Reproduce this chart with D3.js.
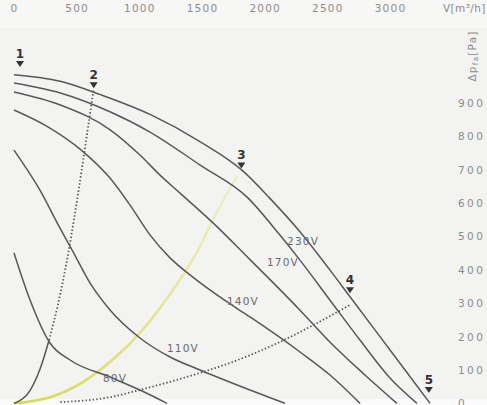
<!DOCTYPE html>
<html><head><meta charset="utf-8">
<script src="https://cdn.jsdelivr.net/npm/d3@7/dist/d3.min.js"></script>
<style>html,body{margin:0;padding:0;background:#fff;}svg{display:block;}</style>
</head><body><svg id="c" width="487" height="405"></svg>
<script>
// ---- data ----
const xTicks = [0, 500, 1000, 1500, 2000, 2500, 3000];
const yTicks = [0, 100, 200, 300, 400, 500, 600, 700, 800, 900];
const xUnit = "V[m³/h]";

// fan curves (V in m3/h, dp in Pa)
const curveA_V = [0, 370, 690, 1090, 1480, 1830, 2040, 2280, 2520, 2680, 2920, 3120, 3320];
const curveA_P = [985, 965, 925, 865, 785, 695, 615, 515, 400, 320, 200, 100, 0];
const curve230_V = [0, 370, 770, 1085, 1485, 1860, 2120, 2280, 2520, 2760, 3000, 3215];
const curve230_P = [960, 930, 873, 813, 714, 618, 505, 430, 310, 190, 76, 0];
const curve170_V = [0, 370, 770, 1005, 1165, 1325, 1590, 1885, 2045, 2280, 2520, 2800, 3055];
const curve170_P = [933, 894, 819, 744, 684, 630, 540, 430, 370, 280, 184, 85, 0];
const curve140_V = [0, 287, 527, 766, 926, 1085, 1245, 1404, 1700, 1883, 2282, 2521, 2761];
const curve140_P = [879, 825, 762, 675, 594, 505, 436, 385, 304, 259, 154, 85, 0];
const curve110_V = [0, 207, 367, 463, 606, 766, 1005, 1245, 1484, 1883, 2162];
const curve110_P = [759, 639, 525, 460, 361, 280, 196, 139, 100, 40, 0];
const curve80_V = [0, 128, 287, 447, 766, 1005, 1221];
const curve80_P = [451, 310, 181, 130, 79, 40, 0];

const fanLabels = ["230V", "170V", "140V", "110V", "80V"];
const fanLabelV = [2306, 2146, 1827, 1348, 806];
const fanLabelP = [486, 424, 307, 166, 76];

// system curves
const sys2_V = [0, 130, 210, 280, 350, 440, 520, 580, 636];
const sys2_P = [0, 40, 105, 190, 295, 465, 650, 800, 944];
const sys2_solidTo = 280;
const sys4_V = [0, 370, 770, 1000, 1480, 1720, 2070, 2420, 2680];
const sys4_P = [0, 4, 19, 40, 91, 121, 175, 241, 295];
const sys3_V = [0, 300, 550, 800, 1005, 1250, 1484, 1600, 1780];
const sys3_P = [0, 20, 64, 135, 211, 330, 470, 560, 680];

// operating point markers
const markerLabels = ["1", "2", "3", "4", "5"];
const markerV = [48, 636, 1814, 2681, 3310];
const markerP = [1008, 944, 704, 330, 31];

// ---- drawing ----
const svg = d3.select("#c");
const x = d3.scaleLinear().domain([0, 3000]).range([14, 390]);
const y = d3.scaleLinear().domain([0, 900]).range([403.4, 103]);
const FONT = "DejaVu Sans, sans-serif";

// background
svg.append("rect").attr("width", 487).attr("height", 405).attr("fill", "#f3f3f2");
svg.append("rect").attr("width", 487).attr("height", 28).attr("fill", "#f7f7f6");
svg.append("rect").attr("x", 0).attr("y", 399).attr("width", 487).attr("height", 6).attr("fill", "#fbfbfb");

const defs = svg.append("defs");
const grad = defs.append("linearGradient").attr("id", "yg")
  .attr("gradientUnits", "userSpaceOnUse")
  .attr("x1", x(0)).attr("y1", y(0)).attr("x2", x(1780)).attr("y2", y(680));
grad.append("stop").attr("offset", "0").attr("stop-color", "#d6da48");
grad.append("stop").attr("offset", "0.5").attr("stop-color", "#e4e690");
grad.append("stop").attr("offset", "1").attr("stop-color", "#eeeec8");

const line = d3.line().x(d => x(d[0])).y(d => y(d[1])).curve(d3.curveMonotoneX);
const zip = (a, b) => a.map((v, i) => [v, b[i]]);

// yellow system curve
svg.append("path").attr("d", line(zip(sys3_V, sys3_P)))
  .attr("fill", "none").attr("stroke", "url(#yg)").attr("stroke-width", 2.6);

// fan curves
const fans = [[curveA_V, curveA_P], [curve230_V, curve230_P], [curve170_V, curve170_P],
  [curve140_V, curve140_P], [curve110_V, curve110_P], [curve80_V, curve80_P]];
svg.append("g").selectAll("path").data(fans).join("path")
  .attr("d", d => line(zip(d[0], d[1])))
  .attr("fill", "none").attr("stroke", "#585858").attr("stroke-width", 1.5);

// steep system curve: solid near origin, dotted above
const s2 = zip(sys2_V, sys2_P);
svg.append("path").attr("d", line(s2.filter(d => d[0] <= sys2_solidTo)))
  .attr("fill", "none").attr("stroke", "#585858").attr("stroke-width", 1.5);
svg.append("path").attr("d", line(s2.filter(d => d[0] >= sys2_solidTo)))
  .attr("fill", "none").attr("stroke", "#555").attr("stroke-width", 1.8)
  .attr("stroke-dasharray", "1.4,2.2");
// shallow system curve dotted
svg.append("path").attr("d", line(zip(sys4_V, sys4_P).filter(d => d[0] >= 370)))
  .attr("fill", "none").attr("stroke", "#555").attr("stroke-width", 1.8)
  .attr("stroke-dasharray", "1.4,2.2");

// fan labels
svg.append("g").selectAll("text").data(fanLabels).join("text")
  .attr("x", (d, i) => x(fanLabelV[i])).attr("y", (d, i) => y(fanLabelP[i]))
  .attr("dy", "0.35em").attr("text-anchor", "middle")
  .attr("font-family", FONT).attr("font-size", 10.5).attr("letter-spacing", 1.2)
  .attr("fill", "#6a6a6a").text(d => d);

// markers
const mk = svg.append("g").selectAll("g").data(markerLabels).join("g")
  .attr("transform", (d, i) => `translate(${x(markerV[i])},${y(markerP[i])})`);
mk.append("path").attr("d", "M-4,-6 L4,-6 L0,0 Z").attr("fill", "#333");
mk.append("text").attr("y", -9).attr("text-anchor", "middle")
  .attr("font-family", FONT).attr("font-weight", "bold")
  .attr("font-size", 12).attr("fill", "#333").text(d => d);

// top axis
const xa = svg.append("g").attr("transform", "translate(0,16)")
  .call(d3.axisTop(x).tickValues(xTicks).tickSize(0).tickPadding(4).tickFormat(d3.format("d")));
xa.select(".domain").remove();
xa.selectAll("text").attr("font-family", FONT).attr("font-size", 10.5)
  .attr("letter-spacing", 1.2).attr("fill", "#8c8c8c");
svg.append("text").attr("x", 443).attr("y", 12).attr("font-family", FONT)
  .attr("font-size", 10.5).attr("letter-spacing", 0.4).attr("fill", "#8c8c8c").text(xUnit);

// right axis
const ya = svg.append("g").attr("transform", "translate(456,0)")
  .call(d3.axisRight(y).tickValues(yTicks).tickSize(0).tickPadding(2).tickFormat(d3.format("d")));
ya.select(".domain").remove();
ya.selectAll("text").attr("font-family", FONT).attr("font-size", 10.5)
  .attr("letter-spacing", 2.4).attr("fill", "#8c8c8c");

// right axis title (rotated)
const t = svg.append("text").attr("transform", "translate(476,56) rotate(-90)")
  .attr("text-anchor", "middle").attr("font-family", FONT)
  .attr("font-size", 10.5).attr("letter-spacing", 1.2).attr("fill", "#8c8c8c");
t.append("tspan").text("Δp");
t.append("tspan").attr("font-size", 7.5).attr("dy", 2).text("fa");
t.append("tspan").attr("dy", -2).text("[Pa]");
</script></body></html>
